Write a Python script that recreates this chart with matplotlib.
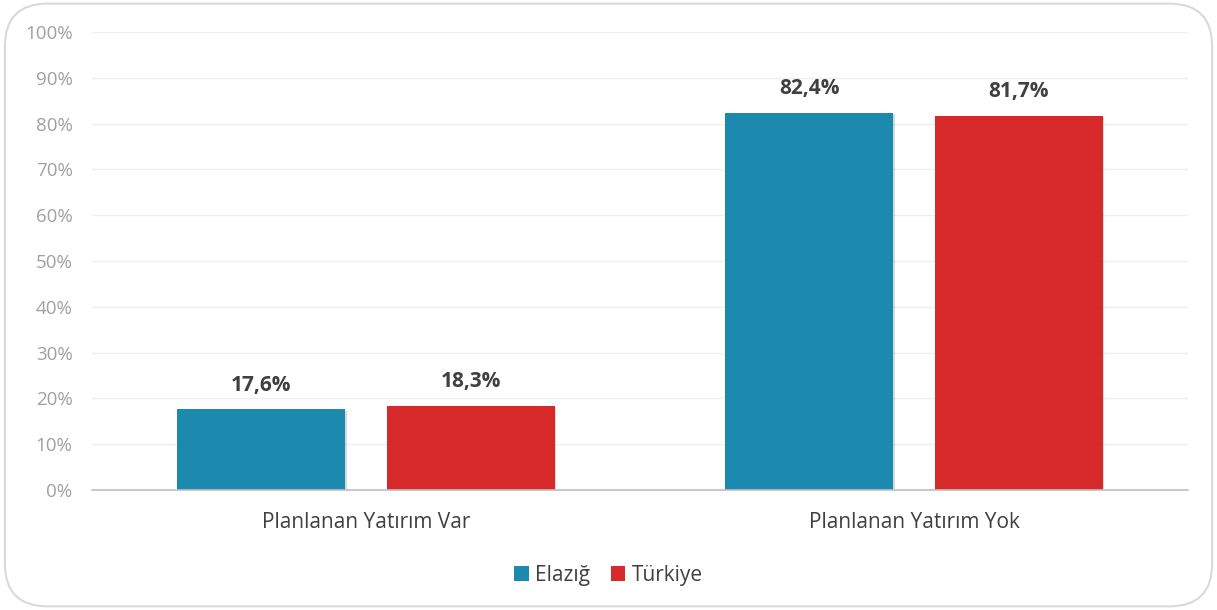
import numpy as np
import matplotlib.pyplot as plt
from matplotlib.patches import FancyBboxPatch, Patch
import matplotlib.patheffects as pe

plt.rcParams['font.family'] = ['Open Sans', 'DejaVu Sans']

categories = ['Planlanan Yatırım Var', 'Planlanan Yatırım Yok']
series_names = ['Elazığ', 'Türkiye']
elazig = [17.6, 82.4]
turkiye = [18.3, 81.7]
colors = ['#1B8AAE', '#D7282A']

fig = plt.figure(figsize=(12.17, 6.1), dpi=100)
ax = fig.add_axes([92 / 1217, 1 - 490 / 610, 1096 / 1217, 458 / 610])

# rounded frame around the whole chart
frame = FancyBboxPatch((0.004, 0.006), 0.992, 0.988, boxstyle='round,pad=0,rounding_size=0.035',
                       transform=fig.transFigure, facecolor='none', edgecolor='#D9D9D9',
                       linewidth=1.5, mutation_aspect=2.0)
fig.patches.append(frame)

x = np.arange(len(categories))
width = 0.308
offset = 0.1915
shadow = [pe.SimplePatchShadow(offset=(0.8, -0.8), shadow_rgbFace='black', alpha=0.15), pe.Normal()]

for vals, off, c in [(elazig, -offset, colors[0]), (turkiye, offset, colors[1])]:
    bars = ax.bar(x + off, vals, width, color=c, zorder=3, path_effects=shadow)
    for b, v in zip(bars, vals):
        ax.text(b.get_x() + b.get_width() / 2, v + 3.0, f'{v:.1f}%'.replace('.', ','),
                ha='center', va='bottom', fontsize=15, fontweight='bold', color='#404040')

ax.set_xlim(-0.5, 1.5)
ax.set_ylim(0, 100)
ax.set_yticks(np.arange(0, 101, 10))
ax.set_yticklabels([f'{t}%' for t in range(0, 101, 10)])
ax.set_xticks(x)
ax.set_xticklabels(categories)
ax.tick_params(axis='y', length=0, pad=14, labelsize=13.5, labelcolor='#A0A0A0')
ax.tick_params(axis='x', length=0, pad=16, labelsize=15, labelcolor='#404040')
ax.grid(axis='y', color='#EFEFEF', linewidth=1, zorder=0)
ax.set_axisbelow(True)
for s in ['top', 'right', 'left']:
    ax.spines[s].set_visible(False)
ax.spines['bottom'].set_color('#BFBFBF')
ax.spines['bottom'].set_linewidth(1.2)
ax.spines['bottom'].set_zorder(4)

handles = [Patch(facecolor=c, label=n) for c, n in zip(colors, series_names)]
fig.legend(handles=handles, loc='center', bbox_to_anchor=(0.5, 1 - 575 / 610), ncol=2,
           frameon=False, fontsize=15, labelcolor='#404040', handlelength=0.7, handleheight=0.7,
           handletextpad=0.3, columnspacing=1.0)

fig.savefig('out.png', dpi=100)
